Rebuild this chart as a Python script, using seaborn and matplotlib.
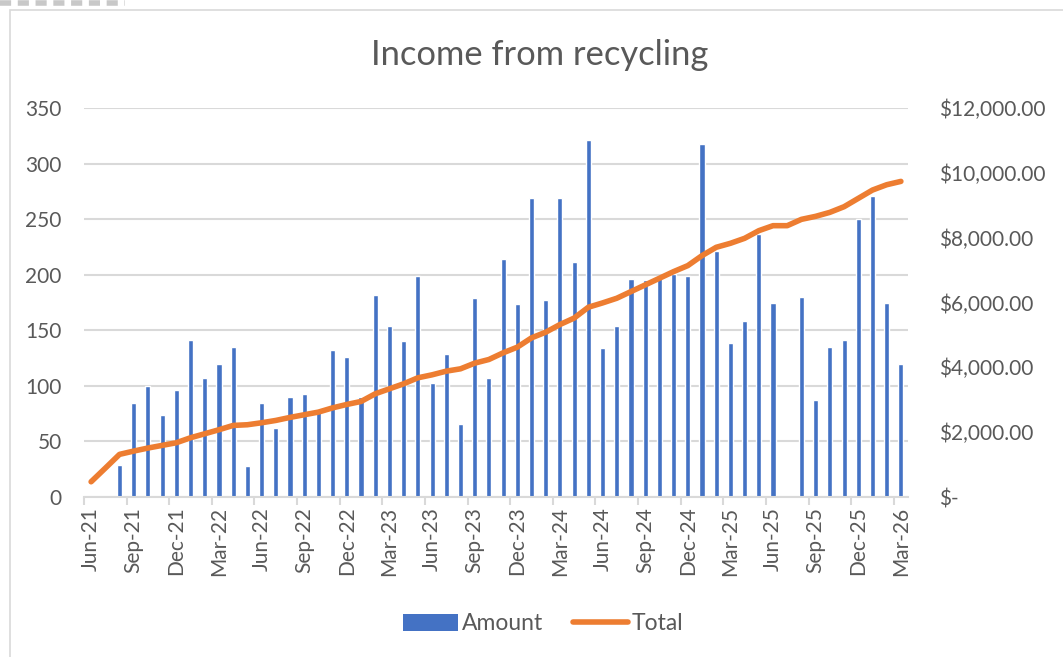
import numpy as np
import pandas as pd
import matplotlib
matplotlib.use('Agg')
import matplotlib.pyplot as plt
import seaborn as sns
from matplotlib.ticker import FuncFormatter
from matplotlib.lines import Line2D
from matplotlib.patches import Rectangle, Patch

# monthly data, Jun-21 .. Mar-26
months = pd.date_range('2021-06-01', '2026-03-01', freq='MS')
month_labels = [d.strftime('%b-%y') for d in months]

amount = [np.nan, np.nan, 29, 85, 100, 74, 96, 141, 107, 120, 135, 28,
          85, 62, 90, 93, 78, 132, 126, 90, 182, 154, 140, 199,
          103, 129, 66, 179, 107, 214, 174, 269, 177, 269, 211, 321,
          134, 154, 196, 195, 197, 201, 199, 318, 221, 139, 158, 237,
          175, np.nan, 180, 87, 135, 141, 250, 271, 175, 120]

total = [470, 890, 1315, 1417, 1510, 1592, 1674, 1828, 1951, 2075, 2208, 2229,
         2290, 2362, 2455, 2537, 2619, 2750, 2855, 2947, 3184, 3338, 3492, 3677,
         3769, 3882, 3954, 4129, 4242, 4447, 4622, 4909, 5084, 5320, 5520, 5854,
         5987, 6131, 6337, 6542, 6747, 6953, 7138, 7446, 7703, 7826, 7980, 8216,
         8370, 8370, 8565, 8658, 8781, 8955, 9212, 9469, 9633, 9736]

BLUE = '#4472C4'
ORANGE = '#ED7D31'
GRID = '#D9D9D9'
TEXT = '#595959'

df = pd.DataFrame({'month': month_labels, 'idx': np.arange(len(month_labels)),
                   'Amount': amount, 'Total': total})

sns.set_theme(style='white')
plt.rcParams['font.family'] = ['Lato', 'DejaVu Sans']

fig = plt.figure(figsize=(10.63, 6.57), dpi=100)
ax = fig.add_axes([84 / 1063, 1 - 497 / 657, (908 - 84) / 1063, (497 - 108) / 657])

sns.barplot(data=df, x='month', y='Amount', order=month_labels, color=BLUE,
            saturation=1, width=0.36, ax=ax, errorbar=None)
ax.set_xlim(-0.5, len(months) - 0.5)
ax.set_ylim(0, 350)
ax.set_yticks(np.arange(0, 351, 50))
ax.grid(axis='y', color=GRID, lw=1.5)
ax.set_axisbelow(True)
for s in ['top', 'left', 'right']:
    ax.spines[s].set_visible(False)
ax.spines['bottom'].set_color(GRID)
ax.spines['bottom'].set_linewidth(1.5)
ax.set_xlabel('')
ax.set_ylabel('')

# x axis: tick marks between months, labels every 3rd month
ax.set_xticks(np.arange(-0.5, len(months), 3))
ax.set_xticklabels([])
ax.set_xticks(np.arange(0, len(months), 3), minor=True)
ax.set_xticklabels(month_labels[::3], minor=True, rotation=90, ha='center', va='top')
ax.tick_params(axis='x', which='major', length=6, width=1.5, color=GRID, bottom=True)
ax.tick_params(axis='x', which='minor', length=0, pad=7, labelsize=15, labelcolor=TEXT)
ax.tick_params(axis='y', length=0, pad=16, labelsize=15, labelcolor=TEXT)

ax2 = ax.twinx()
sns.lineplot(data=df, x='idx', y='Total', color=ORANGE, lw=4, ax=ax2,
             solid_capstyle='round', solid_joinstyle='round')
ax2.set_ylim(0, 12000)
ax2.set_yticks(np.arange(0, 12001, 2000))
ax2.yaxis.set_major_formatter(FuncFormatter(lambda v, p: '$-' if v == 0 else f'${v:,.2f}'))
ax2.tick_params(axis='y', length=0, pad=22, labelsize=15, labelcolor=TEXT)
ax2.set_ylabel('')
ax2.set_xlabel('')
for s in ax2.spines.values():
    s.set_visible(False)
ax2.grid(False)
ax2.set_xlim(-0.5, len(months) - 0.5)

fig.text(540 / 1063, 1 - 55 / 657, 'Income from recycling', ha='center', va='center',
         fontsize=24.8, color=TEXT)

handles = [Patch(facecolor=BLUE, edgecolor='none'),
           Line2D([], [], color=ORANGE, lw=4, solid_capstyle='round')]
fig.legend(handles, ['Amount', 'Total'], loc='center', ncol=2, frameon=False,
           bbox_to_anchor=(543 / 1063, 1 - 624 / 657), fontsize=16.5,
           labelcolor=TEXT, handlelength=2.4, handleheight=0.75, handletextpad=0.15,
           columnspacing=1.3)

# chart border and selection marks
fig.add_artist(Rectangle((10 / 1063, -0.01), 1.0, 1 - 10 / 657 + 0.01,
                         transform=fig.transFigure, fill=False, edgecolor=GRID, lw=1.2))
fig.add_artist(Line2D([0, 125 / 1063], [1 - 3 / 657] * 2, transform=fig.transFigure,
                      color='#C8C8C8', lw=4, linestyle=(0, (2, 1.2))))

fig.savefig('out.png', dpi=100)
